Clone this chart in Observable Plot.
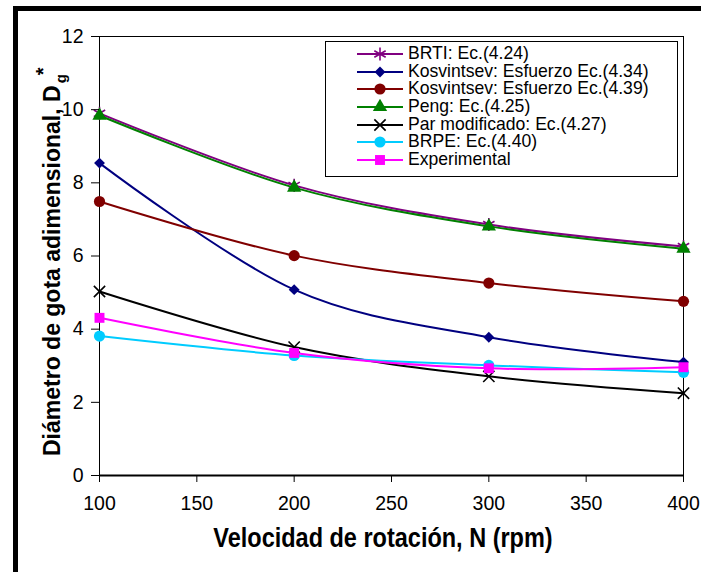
<!DOCTYPE html>
<html>
<head>
<meta charset="utf-8">
<script src="https://cdn.jsdelivr.net/npm/d3@7"></script>
<script src="https://cdn.jsdelivr.net/npm/@observablehq/plot@0.6"></script>
<style>
  html, body { margin: 0; padding: 0; background: #fff; }
  #chart { position: relative; width: 701px; height: 572px; overflow: hidden; background: #fff; font-family: "Liberation Sans", Arial, sans-serif; }
  #chart > svg { position: absolute; left: 0; top: 0; }
  .bar { position: absolute; background: #000; }
  #legend { position: absolute; left: 325px; top: 41px; width: 353px; height: 136px; box-sizing: border-box; border: 1px solid #000; background: #fff; padding-top: 3px; }
  .row { height: 17.7px; display: flex; align-items: center; font-size: 17.6px; line-height: 17.7px; color: #000; white-space: nowrap; }
  .row span { display: inline-block; transform: scaleY(1.08); transform-origin: 0 50%; }
  .row svg { margin-left: 31px; margin-right: 5px; flex: none; }
</style>
</head>
<body>
<div id="chart"></div>
<script>
// Rotation speed (rpm)
const rpm = [100, 200, 300, 400];

// Dimensionless drop diameter for each correlation
const brti = [9.90, 7.93, 6.86, 6.26];
const kosv434 = [8.54, 5.08, 3.78, 3.10];
const kosv439 = [7.49, 6.01, 5.26, 4.76];
const peng = [9.84, 7.87, 6.81, 6.20];
const parMod = [5.03, 3.51, 2.71, 2.25];
const brpe = [3.81, 3.28, 3.01, 2.82];
const experimental = [4.31, 3.35, 2.93, 2.96];

const seriesNames = [
  "BRTI: Ec.(4.24)",
  "Kosvintsev: Esfuerzo Ec.(4.34)",
  "Kosvintsev: Esfuerzo Ec.(4.39)",
  "Peng: Ec.(4.25)",
  "Par modificado: Ec.(4.27)",
  "BRPE: Ec.(4.40)",
  "Experimental"
];
const seriesValues = [brti, kosv434, kosv439, peng, parMod, brpe, experimental];
const seriesColors = ["#800080", "#000080", "#800000", "#008000", "#000000", "#00ccff", "#ff00ff"];
const seriesSymbols = ["asterisk", "diamond2", "circle", "triangle", "times", "circle", "square"];
const seriesRadius = [6.2, 4.9, 5.6, 5.3, 5.2, 5.6, 5.6];

const xTicks = [100, 150, 200, 250, 300, 350, 400];
const yTicks = [0, 2, 4, 6, 8, 10, 12];

const strokeOnly = new Set(["asterisk", "times"]);

const series = seriesNames.map((name, i) => ({
  name,
  color: seriesColors[i],
  symbol: seriesSymbols[i],
  r: seriesRadius[i],
  rows: rpm.map((n, j) => ({ n, d: seriesValues[i][j] }))
}));

const marks = [Plot.frame({ stroke: "#000", strokeWidth: 1 })];
for (const s of series) {
  marks.push(Plot.line(s.rows, { x: "n", y: "d", stroke: s.color, strokeWidth: 2, curve: "cardinal" }));
  marks.push(Plot.dot(s.rows, strokeOnly.has(s.symbol)
    ? { x: "n", y: "d", symbol: () => s.symbol, r: s.r, stroke: s.color, fill: "none", strokeWidth: 1.6 }
    : { x: "n", y: "d", symbol: () => s.symbol, r: s.r, fill: s.color, stroke: "none" }));
}
marks.push(Plot.ruleY([0], { stroke: "#000", strokeWidth: 2 }));
marks.push(Plot.axisX({ ticks: xTicks, tickSize: 7, tickPadding: 14, tickFormat: d => String(d), fontSize: 19.5, label: null }));
marks.push(Plot.axisY({ ticks: yTicks, tickSize: 8, tickPadding: 8, tickFormat: d => String(d), fontSize: 19.5, label: null }));

const plotSvg = Plot.plot({
  width: 701,
  height: 572,
  marginLeft: 99,
  marginRight: 18,
  marginTop: 36,
  marginBottom: 97,
  x: { domain: [100, 400] },
  y: { domain: [0, 12] },
  style: { fontFamily: "'Liberation Sans', Arial, sans-serif", background: "transparent", color: "#000", overflow: "visible" },
  marks
});

const sel = d3.select(plotSvg);

// Axis titles
sel.append("text")
  .attr("transform", "translate(383,547) scale(1,1.15)")
  .attr("text-anchor", "middle")
  .attr("font-size", 23.5)
  .attr("font-weight", "bold")
  .attr("fill", "#000")
  .text("Velocidad de rotación, N (rpm)");

const yTitle = sel.append("text")
  .attr("transform", "translate(60,456) rotate(-90)")
  .attr("text-anchor", "start")
  .attr("font-size", 23)
  .attr("font-weight", "bold")
  .attr("fill", "#000");
yTitle.append("tspan").text("Diámetro de gota adimensional, D");
yTitle.append("tspan").attr("font-size", 15).attr("dy", 6).attr("dx", 2).text("g");
yTitle.append("tspan").attr("font-size", 20).attr("dy", -16).attr("dx", -1).text("*");

const chartEl = document.getElementById("chart");
chartEl.appendChild(plotSvg);

// Outer frame (top and left edges)
const topBar = document.createElement("div");
topBar.className = "bar";
Object.assign(topBar.style, { left: "13px", top: "6px", width: "688px", height: "5px" });
const leftBar = document.createElement("div");
leftBar.className = "bar";
Object.assign(leftBar.style, { left: "13px", top: "6px", width: "5px", height: "566px" });
chartEl.appendChild(topBar);
chartEl.appendChild(leftBar);

// Legend
const legendEl = document.createElement("div");
legendEl.id = "legend";
const symbolTypes = {
  asterisk: d3.symbolAsterisk, diamond2: d3.symbolDiamond2, circle: d3.symbolCircle,
  triangle: d3.symbolTriangle, times: d3.symbolTimes, square: d3.symbolSquare
};
for (const s of series) {
  const row = document.createElement("div");
  row.className = "row";
  const key = d3.create("svg").attr("width", 46).attr("height", 16);
  key.append("line").attr("x1", 0).attr("x2", 46).attr("y1", 8).attr("y2", 8)
    .attr("stroke", s.color).attr("stroke-width", 2);
  const path = key.append("path")
    .attr("transform", "translate(23,8)")
    .attr("d", d3.symbol(symbolTypes[s.symbol], Math.PI * s.r * s.r)());
  if (strokeOnly.has(s.symbol)) path.attr("fill", "none").attr("stroke", s.color).attr("stroke-width", 1.6);
  else path.attr("fill", s.color);
  row.appendChild(key.node());
  const label = document.createElement("span");
  label.textContent = s.name;
  row.appendChild(label);
  legendEl.appendChild(row);
}
chartEl.appendChild(legendEl);
</script>
</body>
</html>
